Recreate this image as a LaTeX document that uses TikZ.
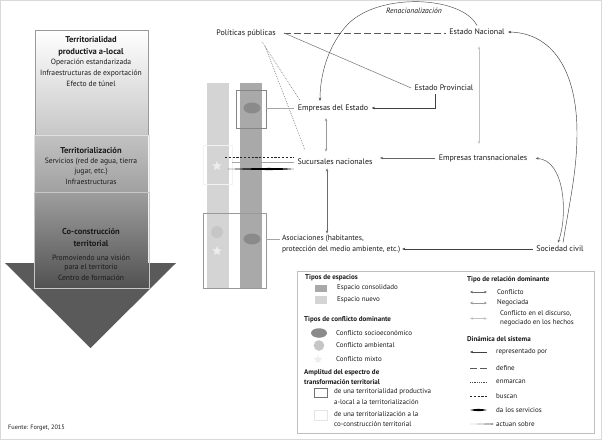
\documentclass[tikz,border=0pt]{standalone}
\usepackage{fontspec}
\setmainfont{PT Sans}
\usetikzlibrary{arrows.meta,calc,shapes.geometric}
\definecolor{consol}{HTML}{A9A9A9}
\definecolor{nuevo}{HTML}{D4D4D4}
\definecolor{ovalc}{HTML}{8A8A8A}
\definecolor{circc}{HTML}{C6C6C6}
\definecolor{starc}{HTML}{EDEDED}
\definecolor{headc}{HTML}{5A5A5A}
\definecolor{txt}{HTML}{1A1A1A}
\tikzset{
  lbl/.style={font=\fontsize{8}{9}\selectfont, text=txt, inner sep=1pt, outer sep=2.5pt},
  ital/.style={font=\fontsize{7.6}{9}\selectfont\itshape, text=txt, inner sep=1pt},
  hd/.style={font=\fontsize{8.5}{10}\selectfont\bfseries, text=txt, inner sep=0pt},
  sm/.style={font=\fontsize{7.6}{8}\selectfont, text=txt, inner sep=0pt},
  lgh/.style={font=\fontsize{7}{8}\selectfont\bfseries, text=txt, inner sep=0pt, anchor=west},
  lgt/.style={font=\fontsize{7}{9}\selectfont, text=txt, inner sep=0pt, anchor=west},
  dbl/.style={{Stealth[length=3pt,width=2.6pt]}-{Stealth[length=3pt,width=2.6pt]}},
  rep/.style={draw=black!75, line width=0.45pt, -{Stealth[length=3.2pt,width=2.6pt]}},
  defl/.style={draw=black!65, line width=0.6pt, dash pattern=on 7pt off 3pt},
  enm/.style={draw=black!70, line width=0.45pt, dash pattern=on 0.7pt off 1.1pt},
  busc/.style={draw=black!85, line width=0.55pt, dash pattern=on 2.2pt off 1.6pt},
  act/.style={draw=black!35, line width=0.9pt},
  confl/.style={draw=black!58, line width=0.55pt, dbl},
  nego/.style={draw=black!40, line width=0.55pt, dbl},
  disc/.style={draw=black!24, line width=0.55pt, dbl},
  starn/.style={star, star points=5, star point ratio=2.3, fill=starc, minimum size=10pt, inner sep=0pt},
  ovaln/.style={ellipse, fill=ovalc, minimum width=17pt, minimum height=11pt, inner sep=0pt, outer sep=0pt},
}
\begin{document}
\begin{tikzpicture}[x=1pt,y=-1pt]
\useasboundingbox (0,0) rectangle (602,440);
\fill[white] (0,0) rectangle (602,440);
\draw[black!15, line width=1pt] (0.5,0.5) rectangle (601.5,439.5);

% ---------- left arrow ----------
\fill[headc] (5,263) -- (176,263) -- (90.5,348) -- cycle;
\shade[top color=white, bottom color=black!22] (35,30) rectangle (148,135);
\shade[top color=black!24, bottom color=black!37] (35,135) rectangle (148,192);
\shade[top color=black!38, bottom color=black!68] (35,192) rectangle (148,288);
\draw[black!40, line width=0.6pt] (35,30) rectangle (148,135);
\draw[black!12, line width=0.7pt] (34,135) rectangle (149,192);
\draw[black!22, line width=0.6pt] (34,192) rectangle (149,288);

\node[hd] (a1) at (91,40) {Territorialidad};
\node[hd] (a2) at (91,52) {productiva a-local};
\node[sm] (a3) at (91,63) {Operación estandarizada};
\node[sm] (a4) at (91,73.5) {Infraestructuras de exportación};
\node[sm] (a5) at (91,84) {Efecto de túnel};
\node[hd] (b1) at (91,150) {Territorialización};
\node[sm] (b2) at (91,162) {Servicios (red de agua, tierra};
\node[sm] (b3) at (91,172) {jugar, etc.)};
\node[sm] (b4) at (91,182) {Infraestructuras};
\node[hd] (c1) at (91,231) {Co-construcción};
\node[hd] (c2) at (91,244) {territorial};
\node[sm] (c3) at (91,258) {Promoviendo una visión};
\node[sm] (c4) at (91,268) {para el territorio};
\node[sm] (c5) at (91,278) {Centro de formación};
\node[font=\fontsize{6.3}{7}\selectfont, text=txt, anchor=west, inner sep=0pt] (src) at (8,428) {Fuente: Forget, 2015};

% ---------- columns ----------
\fill[nuevo] (207,83) rectangle (229,288);
\fill[consol] (240,83) rectangle (262,288);
\node[draw=black!48, line width=0.7pt, minimum width=30pt, minimum height=38pt, inner sep=0pt, outer sep=0pt] (bx1) at (251,109) {};
\node[ovaln] (ov1) at (252,108) {};
\node[draw=black!5, line width=0.8pt, minimum width=29pt, minimum height=39pt, inner sep=0pt, outer sep=0pt] (bx2) at (217.5,164.5) {};
\node[starn] (st1) at (217,166) {};
\node[draw=black!40, line width=0.6pt, minimum width=63pt, minimum height=75pt, inner sep=0pt, outer sep=0pt] (bx3) at (234.5,250.5) {};
\fill[circc] (217,232) circle (6);
\node[starn] (st2) at (217,251) {};
\node[ovaln] (ov2) at (252,239) {};

% ---------- actor nodes ----------
\node[lbl] (pol) at (246,33) {Políticas públicas};
\node[lbl] (nac) at (477,32) {Estado Nacional};
\node[lbl] (prov) at (444,88) {Estado Provincial};
\node[lbl] (emp) at (333,108) {Empresas del Estado};
\node[lbl] (suc) at (335,162) {Sucursales nacionales};
\node[lbl] (trans) at (483,158) {Empresas transnacionales};
\node[lbl, font=\fontsize{7.6}{10.8}\selectfont, anchor=west, align=left, outer sep=1pt] (asoc) at (280,244.5) {Asociaciones (habitantes,\\protección del medio ambiente, etc.)};
\node[lbl] (soc) at (560,249) {Sociedad civil};
\node[ital] (ren) at (414,11) {Renacionalización};

% ---------- connectors ----------
\draw[defl] ([xshift=5pt]pol.east) -- (pol.east -| nac.west);
\draw[black!55, line width=0.5pt] ([xshift=5pt]pol.east) -- (prov.west);
\draw[enm] ([shift={(16,9)}]pol.center) -- ([shift={(-33,-8)}]emp.center);
\draw[enm] ([shift={(19,13)}]pol.center) -- ([shift={(-30,-12)}]suc.center);
\draw[rep, draw=black!70] (nac.north) .. controls (462,-4) and (380,-8) .. (348,24) .. controls (328,45) and (320,75) .. ([xshift=-13pt]emp.north);
\draw[rep] ([xshift=-9pt]prov.south) |- (emp.east);
\draw[disc, shorten <=8pt, shorten >=7pt] ([xshift=2pt]nac.south) -- ([xshift=2pt]nac.south |- trans.north);
\draw[nego, shorten <=3pt, shorten >=4pt] ([xshift=-7pt]emp.south) -- ([xshift=-7pt]emp.south |- suc.north);
\draw[confl] ([xshift=-8pt]suc.south) -- ([xshift=-8pt]suc.south |- asoc.north);
\draw[rep, draw=black!60, shorten >=4pt] (trans.west) -- (trans.west -| suc.east);
\draw[rep] (soc.west) -- (soc.west -| asoc.east);
\draw[rep] ([xshift=3pt]soc.north) .. controls (570,200) and (577,170) .. (577,133) .. controls (577,70) and (552,33) .. (nac.east);
\draw[confl, draw=black!62, shorten <=5pt] (trans.east) .. controls (565,160) and (568,215) .. ([xshift=-2pt]soc.north);

\draw[act] (bx1.east |- ov1) -- (ov1 -| emp.west);
\draw[act] (bx2.east |- suc.west) -- (suc.west);
\coordinate (bs) at (225,157);
\draw[busc] (bs) -- (bs -| suc.west);
\coordinate (ls) at (228,169);
\coordinate (le) at (ls -| suc.west);
\fill[black] (ls) .. controls ($(ls)+(35,-1.3)$) and ($(le)+(-15,-1.4)$) .. (le) .. controls ($(le)+(-15,1.4)$) and ($(ls)+(35,1.3)$) .. (ls) -- cycle;
\draw[act] (bx3.east |- ov2) -- (asoc.west |- ov2);

% ---------- legend ----------
\draw[black!25, line width=0.6pt] (297,271) rectangle (594,433);
\node[lgh] (g1) at (305,278) {Tipos de espacios};
\fill[consol] (315,284.5) rectangle (327,292);
\node[lgt] (g2) at (337,288) {Espacio consolidado};
\fill[nuevo] (315,296) rectangle (327,303.5);
\node[lgt] (g3) at (337,299.5) {Espacio nuevo};
\node[lgh] (g4) at (304,320) {Tipos de conflicto dominante};
\node[ovaln, minimum width=16pt, minimum height=9.5pt] (g5) at (319,333) {};
\node[lgt] (g6) at (336,333) {Conflicto socioeconómico};
\fill[circc] (319,345.5) circle (5.3);
\node[lgt] (g7) at (336,345.5) {Conflicto ambiental};
\node[starn, minimum size=9pt] (g8) at (318,359.5) {};
\node[lgt] (g9) at (336,359.5) {Conflicto mixto};
\node[lgh] (g10) at (304,372.5) {Amplitud del espectro de};
\node[lgh] (g11) at (304,382) {transformación territorial};
\draw[black!55, line width=0.6pt] (314,388) rectangle (327,397.5);
\node[lgt] (g12) at (334,392) {de una territorialidad productiva};
\node[lgt] (g13) at (334,402) {a-local a la territorialización};
\draw[black!10, line width=0.6pt] (314,410.5) rectangle (327,420);
\node[lgt] (g14) at (334,414.5) {de una territorialización a la};
\node[lgt] (g15) at (334,424) {co-construcción territorial};

\node[lgh] (h1) at (467,280) {Tipo de relación dominante};
\draw[confl] (470,292) -- (487,292);
\node[lgt] (h2) at (497,292) {Conflicto};
\draw[nego] (470,303) -- (487,303);
\node[lgt] (h3) at (497,303) {Negociada};
\draw[disc] (470,318.5) -- (487,318.5);
\node[lgt, align=left] (h4) at (500,318.5) {Conflicto en el discurso,\\negociado en los hechos};
\node[lgh] (h5) at (467,339) {Dinámica del sistema};
\draw[rep] (487,352) -- (470,352);
\node[lgt] (h6) at (496,352) {representado por};
\draw[defl] (470,368) -- (487,368);
\node[lgt] (h7) at (496,368) {define};
\draw[enm] (470,382) -- (487,382);
\node[lgt] (h8) at (496,382) {enmarcan};
\draw[busc] (470,396) -- (487,396);
\node[lgt] (h9) at (496,396) {buscan};
\fill[black] (470,410) .. controls (476,408.5) and (481,408.5) .. (487,410) .. controls (481,411.5) and (476,411.5) .. (470,410) -- cycle;
\node[lgt] (h10) at (496,410) {da los servicios};
\fill[black!40] (470,424) -- (493,423.2) -- (493,424.8) -- cycle;
\node[lgt] (h11) at (496,424) {actuan sobre};
\end{tikzpicture}
\end{document}
